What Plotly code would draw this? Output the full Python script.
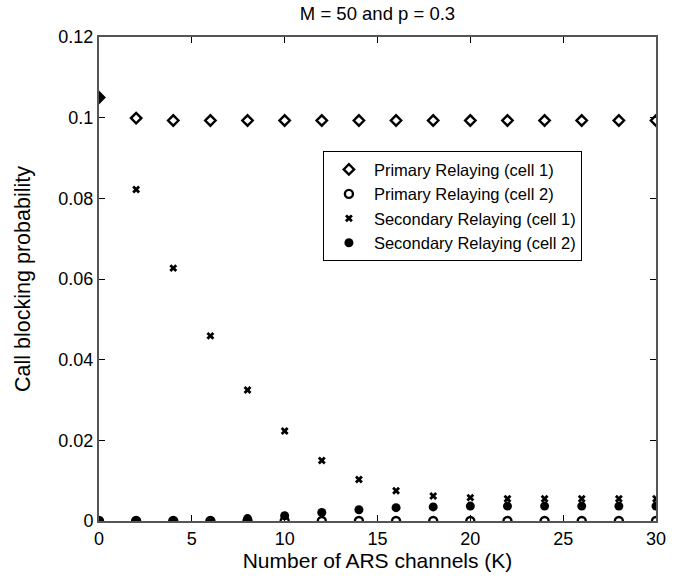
import plotly.graph_objects as go

K = [0, 2, 4, 6, 8, 10, 12, 14, 16, 18, 20, 22, 24, 26, 28, 30]
primary_cell1 = [0.105, 0.0999, 0.0993, 0.0993, 0.0993, 0.0993, 0.0993, 0.0993,
                 0.0993, 0.0993, 0.0993, 0.0993, 0.0993, 0.0993, 0.0993, 0.0993]
primary_cell2 = [0.0] * 16
secondary_cell1 = [0.105, 0.0822, 0.0627, 0.0459, 0.0325, 0.0223, 0.0150, 0.0103,
                   0.0075, 0.0062, 0.0058, 0.0055, 0.0055, 0.0055, 0.0055, 0.0055]
secondary_cell2 = [0.0, 0.0, 0.0, 0.0, 0.0006, 0.0013, 0.0021, 0.0028,
                   0.0033, 0.0035, 0.0037, 0.0037, 0.0037, 0.0037, 0.0037, 0.0037]

x_ticks = [0, 5, 10, 15, 20, 25, 30]
y_ticks = [0, 0.02, 0.04, 0.06, 0.08, 0.1, 0.12]
y_ticktext = ["0", "0.02", "0.04", "0.06", "0.08", "0.1", "0.12"]

FONT = "Liberation Sans, Arial, Helvetica, sans-serif"

fig = go.Figure()
fig.add_trace(go.Scatter(x=K[1:], y=primary_cell1[1:], mode="markers",
                         name="Primary Relaying (cell 1)",
                         marker=dict(symbol="diamond-open", size=8, color="black",
                                     line=dict(width=2.4, color="black"))))
fig.add_trace(go.Scatter(x=K, y=primary_cell2, mode="markers",
                         name="Primary Relaying (cell 2)",
                         marker=dict(symbol="circle-open", size=8, color="black",
                                     line=dict(width=2.4, color="black"))))
fig.add_trace(go.Scatter(x=K[1:], y=secondary_cell1[1:], mode="markers",
                         name="Secondary Relaying (cell 1)",
                         marker=dict(symbol="x", size=7, color="black",
                                     line=dict(width=0))))
fig.add_trace(go.Scatter(x=K, y=secondary_cell2, mode="markers",
                         name="Secondary Relaying (cell 2)",
                         marker=dict(symbol="circle", size=9, color="black")))
# K = 0: both cell-1 curves coincide, drawn as a filled diamond
fig.add_trace(go.Scatter(x=K[:1], y=primary_cell1[:1], mode="markers",
                         showlegend=False, hoverinfo="skip",
                         marker=dict(symbol="diamond", size=9, color="black",
                                     line=dict(width=1.5, color="black"))))

axis_common = dict(showline=True, linecolor="#555555", linewidth=2, mirror="ticks",
                   ticks="inside", ticklen=6, tickwidth=1, tickcolor="black",
                   showgrid=False, zeroline=False,
                   tickfont=dict(family=FONT, size=18, color="black"))

fig.update_layout(
    width=677, height=585,
    margin=dict(l=99, r=21, t=37, b=64),
    paper_bgcolor="white", plot_bgcolor="white",
    font=dict(family=FONT, size=18, color="black"),
    title=dict(text="M = 50 and p = 0.3", x=0.5, xref="paper", xanchor="center",
               y=0.977, yanchor="middle", font=dict(family=FONT, size=18.5, color="black")),
    xaxis=dict(range=[0, 30], tickvals=x_ticks,
               title=dict(text="Number of ARS channels (K)", standoff=5,
                          font=dict(family=FONT, size=21, color="black")),
               **axis_common),
    yaxis=dict(range=[0, 0.12], tickvals=y_ticks, ticktext=y_ticktext,
               title=dict(text="Call blocking probability", standoff=22,
                          font=dict(family=FONT, size=21.5, color="black")),
               **axis_common),
    legend=dict(x=0.402, y=0.764, xanchor="left", yanchor="top",
                bgcolor="white", bordercolor="black", borderwidth=1,
                font=dict(family=FONT, size=16.5, color="black"),
                tracegroupgap=0, itemwidth=40),
    showlegend=True,
)

fig.write_html("out.html")
